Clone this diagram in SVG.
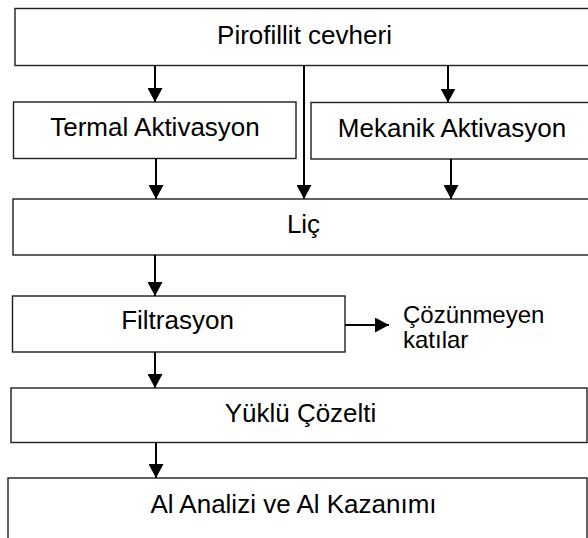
<svg xmlns="http://www.w3.org/2000/svg" width="588" height="538" viewBox="0 0 588 538">
  <style>
    .box { fill: #ffffff; stroke: #1e1e1e; stroke-width: 1.4; }
    .lbl { font-family: "Liberation Sans", Arial, sans-serif; font-size: 26px; fill: #000; text-anchor: middle; }
    .side { font-family: "Liberation Sans", Arial, sans-serif; font-size: 24px; fill: #000; }
    .conn { stroke: #000; stroke-width: 2; fill: none; marker-end: url(#arr); }
  </style>
  <defs>
    <marker id="arr" viewBox="0 0 14 15" refX="14" refY="7.5" markerWidth="14" markerHeight="15" markerUnits="userSpaceOnUse" orient="auto">
      <path d="M0,0 L14,7.5 L0,15 Z" fill="#000"/>
    </marker>
  </defs>
  <rect width="588" height="538" fill="#ffffff"/>

  <g id="node-pirofillit">
    <rect class="box" x="15" y="8.5" width="580" height="57"/>
    <text class="lbl" x="304.5" y="44">Pirofillit cevheri</text>
  </g>
  <g id="node-termal">
    <rect class="box" x="13.5" y="102" width="282.5" height="56.5"/>
    <text class="lbl" x="155" y="136">Termal Aktivasyon</text>
  </g>
  <g id="node-mekanik">
    <rect class="box" x="311" y="102.5" width="284" height="56.5"/>
    <text class="lbl" x="452" y="137">Mekanik Aktivasyon</text>
  </g>
  <g id="node-lic">
    <rect class="box" x="13" y="199" width="582" height="56"/>
    <text class="lbl" x="303.5" y="233">Liç</text>
  </g>
  <g id="node-filtrasyon">
    <rect class="box" x="12.5" y="296" width="332.5" height="56"/>
    <text class="lbl" x="177.5" y="329">Filtrasyon</text>
  </g>
  <g id="node-cozunmeyen">
    <text class="side" x="403" y="323">Çözünmeyen</text>
    <text class="side" x="403" y="348">katılar</text>
  </g>
  <g id="node-yuklu">
    <rect class="box" x="11" y="388" width="576" height="54.5"/>
    <text class="lbl" x="300.5" y="422">Yüklü Çözelti</text>
  </g>
  <g id="node-al">
    <rect class="box" x="8" y="478" width="579" height="80"/>
    <text class="lbl" x="293.5" y="513">Al Analizi ve Al Kazanımı</text>
  </g>

  <g id="connectors">
    <line class="conn" x1="155" y1="65.5" x2="155" y2="102"/>
    <line class="conn" x1="304" y1="65.5" x2="304" y2="199"/>
    <line class="conn" x1="448" y1="65.5" x2="448" y2="102.5"/>
    <line class="conn" x1="156" y1="158.5" x2="156" y2="199"/>
    <line class="conn" x1="451" y1="159" x2="451" y2="199"/>
    <line class="conn" x1="155" y1="255" x2="155" y2="296"/>
    <line class="conn" x1="345" y1="325" x2="389" y2="325"/>
    <line class="conn" x1="155" y1="352" x2="155" y2="388"/>
    <line class="conn" x1="156" y1="442.5" x2="156" y2="478"/>
  </g>
</svg>
